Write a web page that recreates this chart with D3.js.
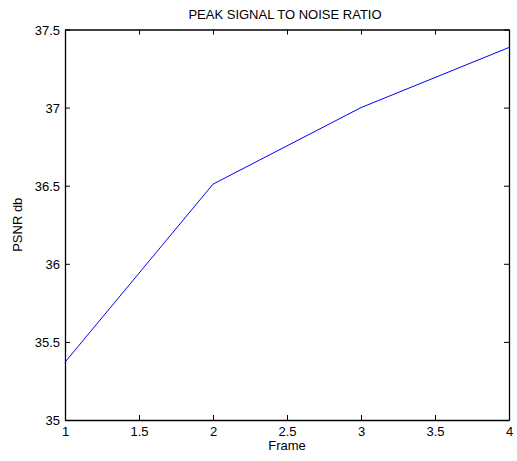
<!DOCTYPE html>
<html><head><meta charset="utf-8">
<script src="https://cdn.jsdelivr.net/npm/d3@7"></script>
<style>body{margin:0;background:#fff}svg{display:block}text{font-family:"Liberation Sans",Arial,sans-serif}</style>
</head><body><svg id="c" width="517" height="461"></svg>
<script>
const frames = [1, 2, 3, 4];
const psnr = [35.37, 36.51, 37.0, 37.385];
const xTicks = [1, 1.5, 2, 2.5, 3, 3.5, 4];
const yTicks = [35, 35.5, 36, 36.5, 37, 37.5];
const title = "PEAK SIGNAL TO NOISE RATIO";
const xLabel = "Frame";
const yLabel = "PSNR db";

const svg = d3.select("#c");
const L = 65, R = 509, T = 29.5, B = 420;
const x = d3.scaleLinear().domain([1, 4]).range([L, R]);
const y = d3.scaleLinear().domain([35, 37.5]).range([B, T]);

const fmt = d => String(d);
const gx = svg.append("g").attr("transform", `translate(0,${B})`)
  .call(d3.axisBottom(x).tickValues(xTicks).tickFormat(fmt).tickSizeInner(-5).tickSizeOuter(0));
const gxt = svg.append("g").attr("transform", `translate(0,${T})`)
  .call(d3.axisTop(x).tickValues(xTicks).tickFormat("").tickSizeInner(-5).tickSizeOuter(0));
const gy = svg.append("g").attr("transform", `translate(${L},0)`)
  .call(d3.axisLeft(y).tickValues(yTicks).tickFormat(fmt).tickSizeInner(-5).tickSizeOuter(0).tickPadding(5));
const gyr = svg.append("g").attr("transform", `translate(${R},0)`)
  .call(d3.axisRight(y).tickValues(yTicks).tickFormat("").tickSizeInner(-5).tickSizeOuter(0));
[gx, gxt, gy, gyr].forEach(g => {
  g.selectAll("path").attr("stroke", "#000").attr("stroke-width", 1.3);
  g.selectAll("line").attr("stroke", "#000").attr("stroke-width", 1);
  g.selectAll("text").attr("font-size", 13).attr("fill", "#000").style("font-family", '"Liberation Sans",Arial,sans-serif');
});
gx.selectAll("text").attr("dy", null).attr("y", 16);
gy.selectAll("text").attr("dy", "0.35em");

svg.append("path")
  .datum(frames.map((f, i) => [f, psnr[i]]))
  .attr("fill", "none").attr("stroke", "#0000ff").attr("stroke-width", 1)
  .attr("d", d3.line().x(d => x(d[0])).y(d => y(d[1])));

svg.append("text").attr("x", (L + R) / 2 - 2).attr("y", 19).attr("text-anchor", "middle")
  .attr("font-size", 13).text(title);
svg.append("text").attr("x", (L + R) / 2).attr("y", 450).attr("text-anchor", "middle")
  .attr("font-size", 13).text(xLabel);
svg.append("text").attr("transform", `translate(22,${(T + B) / 2}) rotate(-90)`).attr("text-anchor", "middle")
  .attr("font-size", 13).text(yLabel);
</script></body></html>
